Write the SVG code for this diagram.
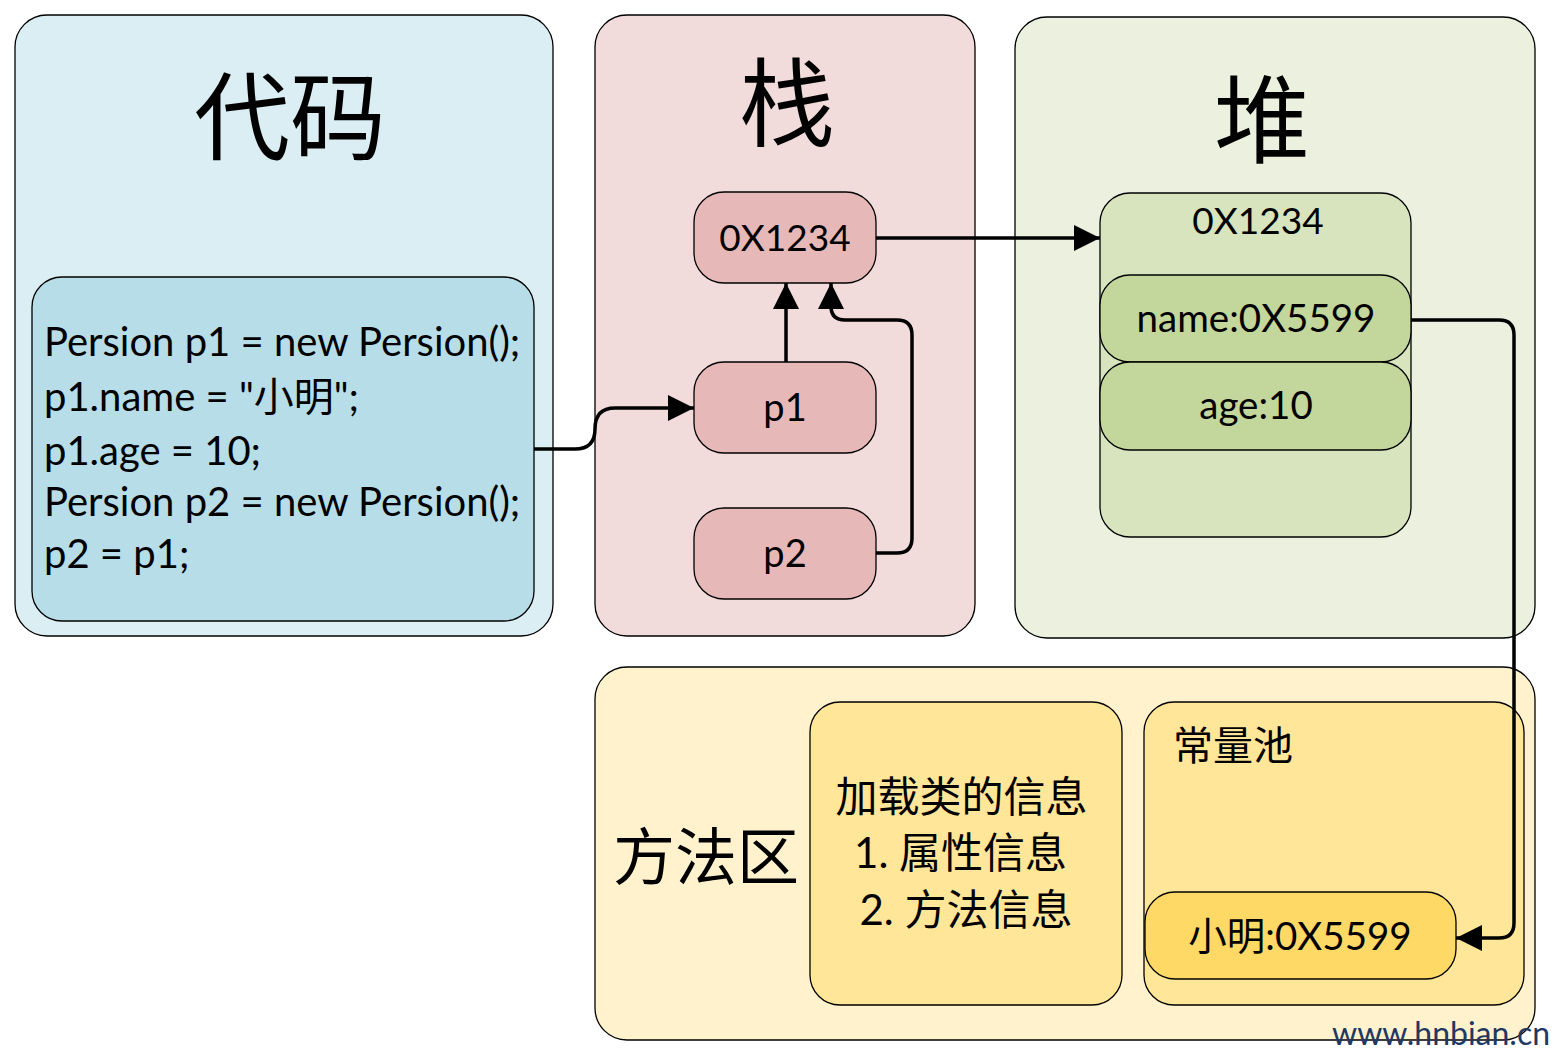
<svg xmlns="http://www.w3.org/2000/svg" width="1558" height="1064" viewBox="0 0 1558 1064">
<defs>
<marker id="ah" viewBox="0 0 24 24" refX="24" refY="12" markerWidth="26" markerHeight="26" markerUnits="userSpaceOnUse" orient="auto">
<path d="M0,0 L24,12 L0,24 z" fill="#000"/>
</marker>
</defs>
<style>
.pn{stroke:#000;stroke-width:1.3}
.t{font-family:Lato,"Noto Sans CJK SC",sans-serif;fill:#000}
.cjk{font-family:"Noto Sans CJK SC",sans-serif;fill:#000}
.c{text-anchor:middle}
.con{fill:none;stroke:#000;stroke-width:3.5;marker-end:url(#ah)}
</style>
<rect width="1558" height="1064" fill="#fff"/>
<g id="code">
<rect class="pn" x="15" y="15" width="538" height="621" rx="32" fill="#DAEEF3"/>
<text class="cjk c" x="290" y="152" font-size="96">代码</text>
<rect class="pn" x="32" y="277" width="502" height="344" rx="30" fill="#B7DDE8"/>
<text class="t" font-size="40">
<tspan x="44" y="356">Persion p1 = new Persion();</tspan>
<tspan x="44" y="411">p1.name = "小明";</tspan>
<tspan x="44" y="465">p1.age = 10;</tspan>
<tspan x="44" y="516">Persion p2 = new Persion();</tspan>
<tspan x="44" y="568">p2 = p1;</tspan>
</text>
</g>
<g id="stack">
<rect class="pn" x="595" y="15" width="380" height="621" rx="32" fill="#F2DCDB"/>
<text class="cjk c" x="787" y="138" font-size="96">栈</text>
</g>
<g id="stack-addr">
<rect class="pn" x="694" y="192" width="182" height="91" rx="30" fill="#E6B9B8"/>
<text class="t c" x="785" y="251" font-size="37">0X1234</text>
</g>
<g id="p1">
<rect class="pn" x="694" y="362" width="182" height="91" rx="30" fill="#E6B9B8"/>
<text class="t c" x="785" y="421" font-size="38">p1</text>
</g>
<g id="p2">
<rect class="pn" x="694" y="508" width="182" height="91" rx="30" fill="#E6B9B8"/>
<text class="t c" x="785" y="567" font-size="38">p2</text>
</g>
<g id="heap">
<rect class="pn" x="1015" y="17" width="520" height="621" rx="32" fill="#EBF1DE"/>
<text class="cjk c" x="1262" y="155" font-size="96">堆</text>
</g>
<g id="heap-obj">
<rect class="pn" x="1100" y="193" width="311" height="344" rx="30" fill="#D7E4BD"/>
<text class="t c" x="1258" y="234" font-size="37">0X1234</text>
</g>
<g id="name">
<rect class="pn" x="1100" y="275" width="311" height="87" rx="30" fill="#C3D69B"/>
<text class="t c" x="1256" y="332" font-size="38.5">name:0X5599</text>
</g>
<g id="age">
<rect class="pn" x="1100" y="362" width="311" height="88" rx="30" fill="#C3D69B"/>
<text class="t c" x="1256" y="419" font-size="38.5">age:10</text>
</g>
<g id="method">
<rect class="pn" x="595" y="667" width="940" height="373" rx="32" fill="#FFF2CC"/>
<text class="cjk" x="613" y="880" font-size="62">方法区</text>
</g>
<g id="classinfo">
<rect class="pn" x="810" y="702" width="312" height="303" rx="30" fill="#FFE699"/>
<text class="t c" font-size="42">
<tspan x="967" y="812">加载类的信息</tspan>
<tspan x="966" y="868">1. 属性信息</tspan>
<tspan x="966" y="925">2. 方法信息</tspan>
</text>
</g>
<g id="pool">
<rect class="pn" x="1144" y="702" width="380" height="303" rx="30" fill="#FFE699"/>
<text class="cjk" x="1173" y="760" font-size="40">常量池</text>
</g>
<g id="xiaoming">
<rect class="pn" x="1145" y="892" width="311" height="87" rx="30" fill="#FFD966"/>
<text class="t c" x="1300" y="950" font-size="38.5">小明:0X5599</text>
</g>
<g id="connectors">
<path class="con" d="M534,449 H575 Q595,449 595,429 Q595,408 615,408 H694"/>
<path class="con" d="M786,362 V283"/>
<path class="con" d="M876,553 H897 Q912,553 912,538 V335 Q912,320 897,320 H845 Q831,320 831,306 V283"/>
<path class="con" d="M876,238 H1100"/>
<path class="con" d="M1411,320 H1499 Q1514,320 1514,335 V923 Q1514,938 1499,938 H1456"/>
</g>
<text x="1332" y="1045" font-family="Lato,sans-serif" font-size="32" fill="#1F3864">www.hnbian.cn</text>
</svg>
